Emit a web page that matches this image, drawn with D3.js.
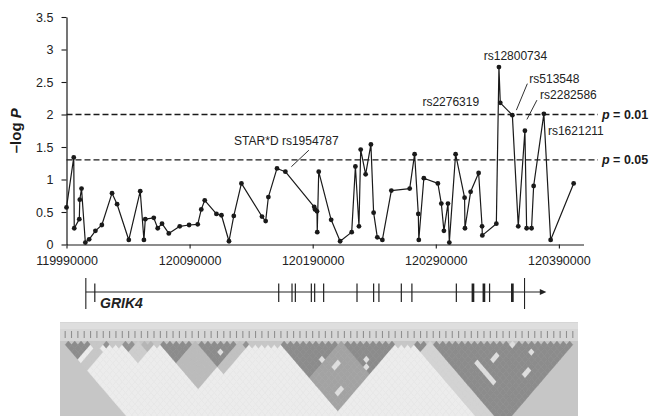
<!DOCTYPE html>
<html>
<head>
<meta charset="utf-8">
<script src="https://cdn.jsdelivr.net/npm/d3@7"></script>
<style>
  body { margin: 0; background: #fff; }
  svg { display: block; }
  text { font-family: "Liberation Sans", Arial, Helvetica, sans-serif; }
</style>
</head>
<body>
<svg id="chart" width="652" height="416"></svg>
<script>
// ---- association results along GRIK4 (chr11) ----
const positions = [
  119990000, 119995900, 119996300, 120000400, 120000800, 120002200, 120005300, 120008400, 120013500, 120018700,
  120027000, 120031100, 120040600, 120049900, 120052900, 120054000, 120060900, 120064100, 120067600, 120073100,
  120082000, 120089600, 120096600, 120099500, 120102300, 120111800, 120115900, 120122000, 120125900, 120132100,
  120148800, 120151800, 120154000, 120161000, 120167800, 120191200, 120191900, 120193500, 120193700, 120194900,
  120205000, 120212300, 120221700, 120224700, 120227600, 120229000, 120233000, 120237300, 120239500, 120242500,
  120246600, 120253900, 120268800, 120272800, 120275800, 120276200, 120280300, 120291700, 120294500, 120296600,
  120299900, 120301000, 120306100, 120313400, 120313700, 120318300, 120324800, 120327600, 120327800, 120339200,
  120341300, 120342400, 120352200, 120357000, 120362400, 120363800, 120367800, 120369500, 120377800, 120383300,
  120402000
];
const logP = [
  0.57, 1.34, 0.25, 0.39, 0.69, 0.86, 0.03, 0.08, 0.21, 0.30,
  0.79, 0.62, 0.07, 0.82, 0.07, 0.39, 0.41, 0.25, 0.32, 0.17,
  0.28, 0.30, 0.31, 0.54, 0.68, 0.47, 0.45, 0.05, 0.44, 0.94,
  0.43, 0.36, 0.73, 1.17, 1.12, 0.58, 0.54, 0.51, 0.19, 1.12,
  0.38, 0.05, 0.19, 1.20, 0.28, 1.46, 1.08, 1.54, 0.49, 0.11,
  0.07, 0.83, 0.86, 1.39, 0.47, 0.07, 1.02, 0.94, 0.63, 0.21,
  0.63, 0.03, 1.39, 0.72, 0.25, 0.81, 1.10, 0.28, 0.14, 0.32,
  2.73, 2.18, 1.99, 0.28, 1.75, 0.25, 0.25, 0.90, 2.01, 0.07,
  0.94
];
const xTicks = [119990000, 120090000, 120190000, 120290000, 120390000];
const yTicks = [0, 0.5, 1, 1.5, 2, 2.5, 3, 3.5];
const thresholds = [0.01, 0.05];

// highlighted SNPs: label text and the index of the SNP it names
const snpLabels = ["STAR*D rs1954787", "rs12800734", "rs2276319", "rs513548", "rs2282586", "rs1621211"];
const snpLabelIndex = [34, 70, 71, 72, 74, 78];

// ---- gene model ----
const geneName = "GRIK4";
const transcriptMarks = [120005700, 120362100];
const geneArrowEnd = 120379800;
const exonStarts = [120013000, 120162400, 120173200, 120175900, 120188900, 120191600, 120198900, 120226000,
  120239500, 120243800, 120262000, 120270600, 120306700, 120319100, 120328000, 120333700, 120351100];
const exonEnds = [120013000, 120162400, 120173200, 120175900, 120188900, 120191600, 120198900, 120226000,
  120239500, 120243800, 120262000, 120270600, 120306700, 120321300, 120330200, 120333700, 120353300];

// ---- pairwise LD (r^2) summarised as haplotype blocks over the same SNPs ----
const ldBlocks = [[0, 4], [6, 7], [9, 11], [12, 14], [15, 20], [21, 27], [28, 29], [34, 43], [44, 52], [55, 57], [58, 80]];
const ldBlockR2 = [0.85, 0.8, 0.8, 0.5, 0.85, 0.85, 0.8, 0.85, 0.85, 0.85, 0.85];
// LD between pairs of blocks (block index, block index, r^2)
const ldLinks = [[0, 1, 0.35], [4, 5, 0.45], [2, 3, 0.3], [7, 8, 0.65], [9, 10, 0.25], [5, 6, 0.4]];
// weak pairs inside blocks (SNP index pairs)
const ldWeakPairs = [[38, 43], [39, 46], [40, 46], [72, 75], [70, 71], [23, 26], [62, 68], [62, 69], [62, 70],
  [62, 71], [62, 72], [62, 73], [65, 70], [66, 70], [45, 50], [44, 51], [68, 77], [69, 77], [36, 50], [37, 50]];
// adjacent markers outside blocks that still share moderate LD
const ldAdjacentR2 = 0.35;

// ================= drawing =================
const svg = d3.select("#chart");
const ink = "#1a1a1a";

const x = d3.scaleLinear().domain([119990000, 120410000]).range([66.5, 583.5]);
const y = d3.scaleLinear().domain([0, 3.5]).range([244.5, 17]);

// axes
const gx = svg.append("g")
  .attr("transform", `translate(0,${y(0)})`)
  .call(d3.axisBottom(x).tickValues(xTicks).tickFormat(d3.format("d"))
    .tickSize(4).tickSizeOuter(0).tickPadding(8));
const gy = svg.append("g")
  .attr("transform", `translate(${x.range()[0]},0)`)
  .call(d3.axisLeft(y).tickValues(yTicks).tickFormat(d => String(d))
    .tickSize(5).tickSizeOuter(0).tickPadding(8));
[gx, gy].forEach(g => {
  g.attr("color", ink);
  g.select(".domain").attr("stroke-width", 1.2);
  g.selectAll(".tick line").attr("stroke-width", 1.1);
  g.selectAll(".tick text").attr("font-size", 12.5).attr("fill", "#222");
});

svg.append("text")
  .attr("transform", `translate(15,${(y(0) + y(3.5)) / 2}) rotate(-90)`)
  .attr("text-anchor", "middle")
  .attr("dominant-baseline", "central")
  .attr("font-size", 15).attr("font-weight", "bold").attr("fill", ink)
  .call(t => {
    t.append("tspan").text("\u2013log ");
    t.append("tspan").attr("font-style", "italic").text("P");
  });

// significance thresholds
thresholds.forEach(p => {
  const yy = y(-Math.log10(p));
  svg.append("line")
    .attr("x1", x.range()[0]).attr("x2", 598)
    .attr("y1", yy).attr("y2", yy)
    .attr("stroke", ink).attr("stroke-width", 1.3)
    .attr("stroke-dasharray", "6,3");
  svg.append("text")
    .attr("x", 602).attr("y", yy + 4.3)
    .attr("font-size", 12.5).attr("font-weight", "bold").attr("fill", ink)
    .call(t => {
      t.append("tspan").attr("font-style", "italic").text("p");
      t.append("tspan").text(` = ${p.toFixed(2)}`);
    });
});

// association trace
const idx = d3.range(positions.length);
svg.append("path")
  .datum(idx)
  .attr("fill", "none")
  .attr("stroke", ink).attr("stroke-width", 1.2).attr("stroke-linejoin", "round")
  .attr("d", d3.line().x(i => x(positions[i])).y(i => y(logP[i])));
svg.append("g").selectAll("circle").data(idx).join("circle")
  .attr("cx", i => x(positions[i])).attr("cy", i => y(logP[i]))
  .attr("r", 2.4).attr("fill", ink);

// SNP labels, placed relative to the SNP they name
const labelLayout = [
  { dx: 1, dy: -26.5, leader: [6, -5, 23.5, -21.5] },
  { dx: 16.5, dy: -7.4 },
  { dx: -49.5, dy: 3.4 },
  { dx: 42, dy: -32.4, leader: [4, -5, 15, -31.5] },
  { dx: 43.5, dy: -31.3, leader: [2, -11.3, 12, -30.6] },
  { dx: 32, dy: 21.4 }
];
snpLabels.forEach((label, k) => {
  const i = snpLabelIndex[k];
  const px = x(positions[i]), py = y(logP[i]);
  const L = labelLayout[k];
  svg.append("text")
    .attr("x", px + L.dx).attr("y", py + L.dy)
    .attr("text-anchor", "middle")
    .attr("font-size", 12).attr("fill", "#222")
    .text(label);
  if (L.leader) {
    svg.append("line")
      .attr("x1", px + L.leader[0]).attr("y1", py + L.leader[1])
      .attr("x2", px + L.leader[2]).attr("y2", py + L.leader[3])
      .attr("stroke", ink).attr("stroke-width", 0.9);
  }
});

// gene model
const geneY = 292;
const gene = svg.append("g").attr("stroke", "#222");
gene.append("line")
  .attr("x1", x(transcriptMarks[0])).attr("x2", x(geneArrowEnd) - 5)
  .attr("y1", geneY).attr("y2", geneY).attr("stroke-width", 1.1);
gene.append("path")
  .attr("d", `M${x(geneArrowEnd)},${geneY} l-6.5,-3 v6 z`)
  .attr("fill", "#222").attr("stroke", "none");
transcriptMarks.forEach(p => {
  gene.append("line").attr("x1", x(p)).attr("x2", x(p))
    .attr("y1", geneY - 14).attr("y2", geneY + 17).attr("stroke-width", 1.1);
});
exonStarts.forEach((s, k) => {
  const x0 = x(s), x1 = x(exonEnds[k]);
  const w = Math.max(1.2, x1 - x0);
  gene.append("rect")
    .attr("x", (x0 + x1) / 2 - w / 2).attr("width", w)
    .attr("y", geneY - 8.5).attr("height", 18.5)
    .attr("fill", "#222").attr("stroke", "none");
});
svg.append("text")
  .attr("x", 100).attr("y", 307.5)
  .attr("font-size", 14).attr("font-weight", "bold").attr("font-style", "italic")
  .attr("fill", "#222")
  .text(geneName);

// LD heat map
const N = positions.length;
const ldBox = { x0: 60, x1: 578, y0: 322, y1: 416 };
const ldTop = 341, cellH = 3.7;
const ldX = d3.scaleLinear().domain([0, N]).range([62, 576]);
const halfW = (ldX(1) - ldX(0)) / 2;
const shade = d3.scaleLinear().domain([0, 1]).range(["#f0f0f0", "#7a7a7a"]);

const r2 = Array.from({ length: N }, () => new Array(N).fill(0.03));
for (let i = 0; i + 1 < N; i++) r2[i][i + 1] = ldAdjacentR2;
ldBlocks.forEach(([a, b], bi) => {
  for (let i = a; i <= b; i++)
    for (let j = i + 1; j <= b; j++) r2[i][j] = ldBlockR2[bi];
});
ldLinks.forEach(([ba, bb, v]) => {
  const A = ldBlocks[ba], B = ldBlocks[bb];
  for (let i = A[0]; i <= A[1]; i++)
    for (let j = B[0]; j <= B[1]; j++) r2[Math.min(i, j)][Math.max(i, j)] = v;
});
ldWeakPairs.forEach(([i, j]) => { r2[i][j] = 0.15; });

const defs = svg.append("defs");
defs.append("clipPath").attr("id", "ldclip")
  .append("rect").attr("x", ldBox.x0).attr("y", ldBox.y0)
  .attr("width", ldBox.x1 - ldBox.x0).attr("height", ldBox.y1 - ldBox.y0);
defs.append("filter").attr("id", "soft")
  .append("feGaussianBlur").attr("stdDeviation", 0.55);

const ld = svg.append("g").attr("clip-path", "url(#ldclip)");
ld.append("rect").attr("x", ldBox.x0).attr("y", ldBox.y0)
  .attr("width", ldBox.x1 - ldBox.x0).attr("height", ldBox.y1 - ldBox.y0)
  .attr("fill", "#c6c6c6");
ld.append("rect").attr("x", ldBox.x0).attr("y", ldBox.y0)
  .attr("width", ldBox.x1 - ldBox.x0).attr("height", ldTop - ldBox.y0)
  .attr("fill", "#d6d6d6");
ld.append("rect").attr("x", ldBox.x0).attr("y", ldBox.y0 + 1)
  .attr("width", ldBox.x1 - ldBox.x0).attr("height", 6)
  .attr("fill", "#dedede");

const soft = ld.append("g").attr("filter", "url(#soft)");
soft.selectAll("line.mk").data(idx).join("line")
  .attr("x1", i => ldX(i + 0.5)).attr("x2", i => ldX(i + 0.5))
  .attr("y1", 331).attr("y2", 338)
  .attr("stroke", "#8f8f8f").attr("stroke-width", 1.1);

const cells = [];
for (let i = 0; i < N; i++)
  for (let j = i + 1; j < N; j++) {
    const cy = ldTop + (j - i) * cellH;
    if (cy - cellH > ldBox.y1) continue;
    cells.push({ i, j, cx: ldX((i + j + 1) / 2), cy, v: r2[i][j] });
  }
soft.selectAll("path.cell").data(cells).join("path")
  .attr("d", c => `M${c.cx},${c.cy - cellH} L${c.cx + halfW},${c.cy} L${c.cx},${c.cy + cellH} L${c.cx - halfW},${c.cy} Z`)
  .attr("fill", c => shade(c.v))
  .attr("stroke", c => shade(c.v)).attr("stroke-width", 0.4);
</script>
</body>
</html>
